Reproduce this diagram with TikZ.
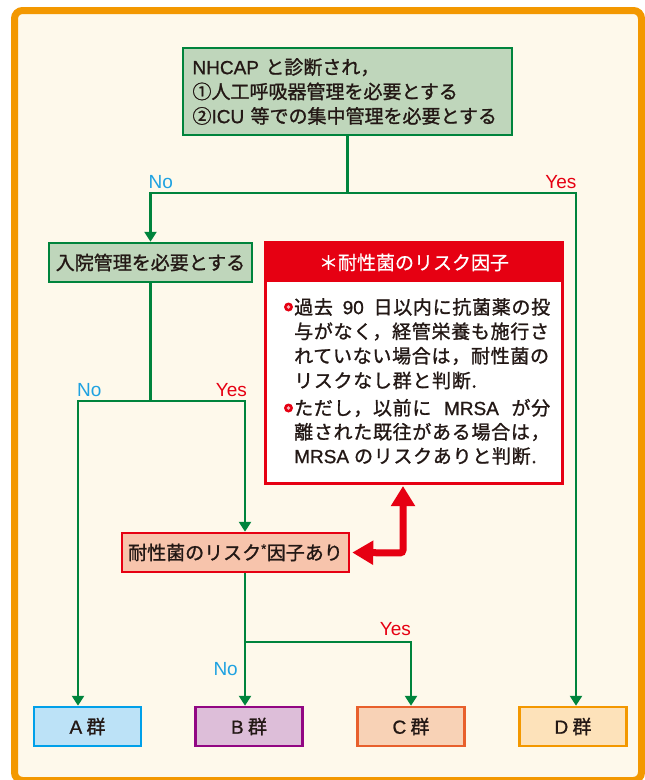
\documentclass[tikz,border=0pt]{standalone}
\usepackage{fontspec}
\setmainfont{Noto Sans CJK JP}[FakeBold=1.2]
\newfontfamily\lat{Liberation Sans}[FakeBold=1.0]
\newfontfamily\latreg{Liberation Sans}
\newfontfamily\jreg{Noto Sans CJK JP}[FakeBold=0.5]
\newfontfamily\jsp{Noto Sans CJK JP}[LetterSpace=3.7,FakeBold=1.2]
\usetikzlibrary{arrows.meta}
\definecolor{gr}{HTML}{00843C}
\definecolor{gfill}{HTML}{BFD6BB}
\definecolor{cream}{HTML}{FEF9EB}
\definecolor{frameor}{HTML}{F39800}
\definecolor{rd}{HTML}{E60012}
\definecolor{cy}{HTML}{1FA2E1}
\definecolor{rkfill}{HTML}{F7C4AC}
\definecolor{afill}{HTML}{BCE2F7}
\definecolor{aline}{HTML}{00A0E9}
\definecolor{bfill}{HTML}{DDBED9}
\definecolor{bline}{HTML}{920783}
\definecolor{cfill}{HTML}{F8D2B6}
\definecolor{cline}{HTML}{E8602C}
\definecolor{dfill}{HTML}{FDE2BA}
\definecolor{dline}{HTML}{F39800}
\definecolor{txt}{HTML}{231815}
\newcommand\jfont{\fontsize{19}{24.5}\selectfont}
\tikzset{
  gline/.style={draw=gr, line width=2.5pt},
  garrow/.style={gline, -{Triangle[length=10pt,width=12pt]}},
  gbox/.style={draw=gr, fill=gfill, line width=2.5pt, font=\jfont, text=txt},
  grp/.style={line width=2.5pt, minimum width=107pt, minimum height=39pt, inner sep=0, font=\jfont, text=txt},
  nolab/.style={text=cy, font=\latreg\fontsize{19}{19}\selectfont, inner sep=0},
  yeslab/.style={text=rd, font=\latreg\fontsize{19}{19}\selectfont, inner sep=0},
  bodyline/.style={anchor=west, inner sep=0, font=\jsp\jfont, text=txt},
  bullet/.style={circle, fill=rd, minimum size=9pt, inner sep=0},
  bulletdot/.style={circle, fill=white!70!rd, minimum size=3.6pt, inner sep=0},
}
\begin{document}
\begin{tikzpicture}[x=1pt,y=-1pt]
\useasboundingbox (0,0) rectangle (645,780);
\fill[white] (0,0) rectangle (645,780);
\draw[draw=frameor, fill=cream, line width=7pt, rounded corners=8pt] (14.5,10.5) rectangle (641.5,780.5);

% top box
\node[gbox, align=left, text width=310pt, inner xsep=9.5pt, inner ysep=0, minimum height=87pt] (top) at (347.5,91.5)
  {{\lat NHCAP} と診断され，\\①人工呼吸器管理を必要とする\\②{\lat ICU} 等での集中管理を必要とする};

% hospital box
\node[gbox, minimum width=203pt, minimum height=39pt, inner sep=0] (hosp) at (150.5,262.5) {入院管理を必要とする};

% risk factor box
\node[draw=rd, fill=white, line width=2pt, minimum width=296pt, minimum height=240pt, inner sep=0] (risk) at (414,363) {};
\node[fill=rd, minimum width=296pt, minimum height=39pt, inner sep=0, text=white, font=\jreg\jfont] (rh) at (414,262.5) {＊耐性菌のリスク因子};
\draw[rd, line width=2pt] (risk.north west) rectangle (risk.south east);

\node[bullet] (b1) at (288.5,307) {};
\node[bulletdot] (b1d) at (b1) {};
\node[bullet] (b2) at (288.5,408) {};
\node[bulletdot] (b2d) at (b2) {};
\node[bodyline] (l1) at (294,307) {\makebox[256pt][s]{過去 {\lat 90} 日以内に抗菌薬の投}};
\node[bodyline] (l2) at (294,331.5) {与がなく，経管栄養も施行さ};
\node[bodyline] (l3) at (294,356) {れていない場合は，耐性菌の};
\node[bodyline] (l4) at (294,380.5) {リスクなし群と判断.};
\node[bodyline] (l5) at (294,408) {\makebox[256pt][s]{ただし，以前に {\lat MRSA} が分}};
\node[bodyline] (l6) at (294,432) {離された既往がある場合は，};
\node[bodyline] (l7) at (294,456) {{\lat MRSA} のリスクありと判断.};

% resistant bacteria risk box
\node[draw=rd, fill=rkfill, line width=2.5pt, minimum width=227pt, minimum height=39pt, inner sep=0, font=\jfont, text=txt] (rk) at (235.5,552.5) {耐性菌のリスク{\lat\textsuperscript{*}}因子あり};

% group boxes
\node[grp, draw=aline, fill=afill] (A) at (87.5,726.5) {{\lat A} 群};
\node[grp, draw=bline, fill=bfill] (B) at (249,726.5) {{\lat B} 群};
\node[grp, draw=cline, fill=cfill] (C) at (411,726.5) {{\lat C} 群};
\node[grp, draw=dline, fill=dfill] (D) at (573,726.5) {{\lat D} 群};

% connectors
\coordinate (j1) at (347.5,193);
\coordinate (j2) at (150.5,401);
\coordinate (j3) at (245,642);
\coordinate (ax) at (78,0);
\coordinate (dx) at (576,0);
\coordinate (rc) at (403,553);
\draw[gline] (top.south) -- (j1);
\draw[garrow] (j1) -| (hosp.north);
\draw[garrow] (j1) -| (D.north -| dx);
\draw[gline] (hosp.south) -- (j2);
\draw[garrow] (j2) -| (A.north -| ax);
\draw[garrow] (j2) -| (rk.north -| j3);
\draw[gline] (rk.south -| j3) -- (j3);
\draw[garrow] (j3) -- (B.north -| j3);
\draw[garrow] (j3) -| (C.north);

% red double arrow
\draw[rd, line width=7pt, rounded corners=3pt, {Triangle[length=21pt,width=23pt]}-{Triangle[length=20pt,width=23pt]}, shorten <=2pt, shorten >=2pt] (rk.east) -- (rc) -- (risk.south -| rc);

% labels
\node[nolab, anchor=west] (no1) at (148.5,182) {No};
\node[yeslab, anchor=east] (yes1) at (576.5,182) {Yes};
\node[nolab, anchor=west] (no2) at (77,390) {No};
\node[yeslab, anchor=east] (yes2) at (247,390) {Yes};
\node[yeslab, anchor=east] (yes3) at (411,629) {Yes};
\node[nolab, anchor=east] (no3) at (238,669) {No};
\end{tikzpicture}
\end{document}
